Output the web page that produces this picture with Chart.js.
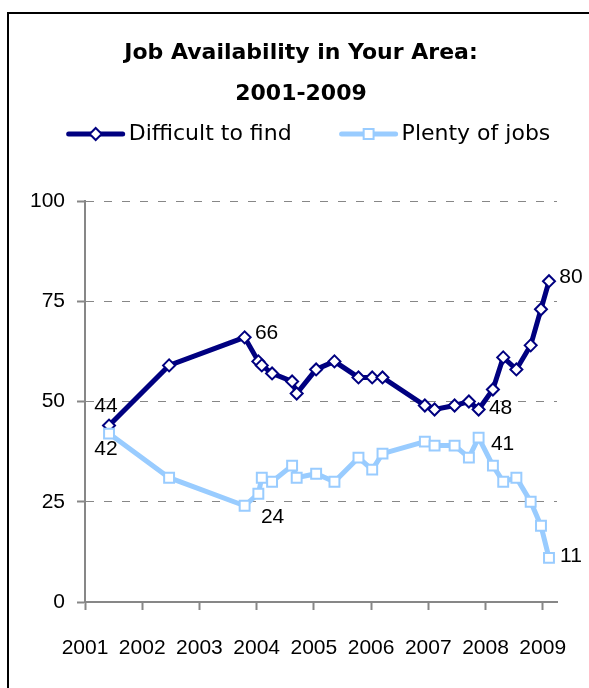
<!DOCTYPE html>
<html>
<head>
<meta charset="utf-8">
<script src="https://cdn.jsdelivr.net/npm/chart.js"></script>
<style>
  html, body { margin: 0; padding: 0; background: #fff; overflow: hidden; }
  .frame { position: absolute; left: 7px; top: 12px; width: 588px; height: 720px; border: 2px solid #000; box-sizing: border-box; }
  .box { position: absolute; left: 7px; top: 0; width: 588px; height: 688px; }
</style>
</head>
<body>
<div class="frame"></div>
<div class="box"><canvas id="job-chart"></canvas></div>
<script>
// survey dates as decimal years
const surveyDates = [2001.42, 2002.47, 2003.79, 2004.03, 2004.09, 2004.27, 2004.62, 2004.70,
  2005.04, 2005.36, 2005.78, 2006.02, 2006.20, 2006.94, 2007.11, 2007.46, 2007.71, 2007.88,
  2008.13, 2008.31, 2008.54, 2008.79, 2008.97, 2009.11];
const difficultToFind = [44, 59, 66, 60, 59, 57, 55, 52, 58, 60, 56, 56, 56, 49, 48, 49, 50, 48,
  53, 61, 58, 64, 73, 80];
const plentyOfJobs = [42, 31, 24, 27, 31, 30, 34, 31, 32, 30, 36, 33, 37, 40, 39, 39, 36, 41,
  34, 30, 31, 25, 19, 11];
const seriesNames = ['Difficult to find', 'Plenty of jobs'];
const yearTicks = [2001, 2002, 2003, 2004, 2005, 2006, 2007, 2008, 2009];
const valueTicks = [0, 25, 50, 75, 100];
// which points get a number next to them
const labelledPoints = [0, 2, 17, 23];

function toPoints(values) {
  return values.map((v, i) => ({ x: surveyDates[i], y: v }));
}

const tickFont = { family: 'Liberation Sans', size: 21 };
const gray = '#878787';

// numbers written beside some points, offsets in px
const pointLabels = {
  id: 'pointLabels',
  afterDatasetsDraw(chart) {
    const offsets = [
      [[-3, -19], [22, -4], [22, -1], [22, -4]],
      [[-3, 16], [28, 11], [24, 7], [22, -2]]
    ];
    const ctx = chart.ctx;
    ctx.save();
    ctx.font = '21px "Liberation Sans"';
    ctx.fillStyle = '#000';
    ctx.textAlign = 'center';
    ctx.textBaseline = 'middle';
    chart.data.datasets.forEach((ds, d) => {
      const meta = chart.getDatasetMeta(d);
      labelledPoints.forEach((idx, k) => {
        const pt = meta.data[idx];
        ctx.fillText(ds.data[idx].y, pt.x + offsets[d][k][0], pt.y + offsets[d][k][1]);
      });
    });
    ctx.restore();
  }
};

// excel style legend: line with the marker in the middle
const lineLegend = {
  id: 'lineLegend',
  afterDraw(chart) {
    const ctx = chart.ctx;
    const y = 134, lineLen = 58, gap = 4, itemGap = 48, centerX = 301.5;
    ctx.save();
    ctx.font = '22px "DejaVu Sans"';
    const widths = seriesNames.map(t => ctx.measureText(t).width);
    const total = widths.reduce((a, w) => a + lineLen + gap + w, 0) + itemGap;
    let x = centerX - total / 2;
    chart.data.datasets.forEach((ds, i) => {
      ctx.strokeStyle = ds.borderColor;
      ctx.lineWidth = 5;
      ctx.lineCap = 'round';
      ctx.beginPath();
      ctx.moveTo(x + 2, y);
      ctx.lineTo(x + lineLen - 2, y);
      ctx.stroke();
      const cx = x + lineLen / 2;
      ctx.fillStyle = '#fff';
      ctx.lineWidth = 2;
      ctx.beginPath();
      if (ds.pointStyle === 'rectRot') {
        const r = ds.pointRadius;
        ctx.moveTo(cx, y - r); ctx.lineTo(cx + r, y); ctx.lineTo(cx, y + r); ctx.lineTo(cx - r, y);
        ctx.closePath();
      } else {
        const s = ds.pointRadius * Math.SQRT1_2;
        ctx.rect(cx - s, y - s, 2 * s, 2 * s);
      }
      ctx.fill();
      ctx.stroke();
      ctx.fillStyle = '#000';
      ctx.textAlign = 'left';
      ctx.textBaseline = 'middle';
      ctx.fillText(seriesNames[i], x + lineLen + gap, y);
      x += lineLen + gap + widths[i] + itemGap;
    });
    ctx.restore();
  }
};

new Chart(document.getElementById('job-chart'), {
  type: 'line',
  data: {
    datasets: [
      {
        label: seriesNames[0],
        data: toPoints(difficultToFind),
        borderColor: '#000080',
        backgroundColor: '#fff',
        borderWidth: 5,
        pointStyle: 'rectRot',
        pointRadius: 6,
        pointBorderWidth: 2,
        pointBackgroundColor: '#fff',
        pointBorderColor: '#000080',
        order: 1
      },
      {
        label: seriesNames[1],
        data: toPoints(plentyOfJobs),
        borderColor: '#99CCFF',
        backgroundColor: '#fff',
        borderWidth: 5,
        pointStyle: 'rect',
        pointRadius: 7,
        pointBorderWidth: 2,
        pointBackgroundColor: '#fff',
        pointBorderColor: '#99CCFF',
        order: 0
      }
    ]
  },
  options: {
    responsive: true,
    maintainAspectRatio: false,
    animation: false,
    plugins: {
      legend: { display: false },
      tooltip: { enabled: false },
      title: {
        display: true,
        text: ['Job Availability in Your Area:', '2001-2009'],
        color: '#000',
        font: { family: 'DejaVu Sans', size: 22, weight: 'bold', lineHeight: '41px' },
        padding: { top: 33, bottom: 86 }
      }
    },
    scales: {
      x: {
        type: 'linear',
        min: 2001,
        max: 2009.25,
        afterBuildTicks: scale => { scale.ticks = yearTicks.map(v => ({ value: v })); },
        afterFit: scale => { scale.height = 86; },
        ticks: {
          color: '#000',
          font: tickFont,
          padding: 26,
          maxRotation: 0,
          autoSkip: false,
          callback: v => String(v)
        },
        grid: { drawOnChartArea: false, tickLength: 8, tickColor: gray, tickWidth: 2 },
        border: { color: gray, width: 2 }
      },
      y: {
        min: 0,
        max: 100,
        afterBuildTicks: scale => { scale.ticks = valueTicks.map(v => ({ value: v })); },
        afterFit: scale => { scale.width = 78; },
        ticks: { color: '#000', font: tickFont, padding: 12 },
        grid: {
          color: c => (c.tick && c.tick.value === 0 ? 'rgba(0,0,0,0)' : gray),
          lineWidth: 1,
          tickLength: 8,
          tickColor: gray,
          tickWidth: 2
        },
        border: { color: gray, width: 2, dash: [8, 10] }
      },
      // empty right-hand strip so the title stays centred on the whole frame
      spacer: {
        type: 'linear',
        position: 'right',
        display: true,
        afterFit: scale => { scale.width = 38; },
        ticks: { display: false },
        grid: { display: false },
        border: { display: false }
      }
    }
  },
  plugins: [pointLabels, lineLegend]
});
</script>
</body>
</html>
